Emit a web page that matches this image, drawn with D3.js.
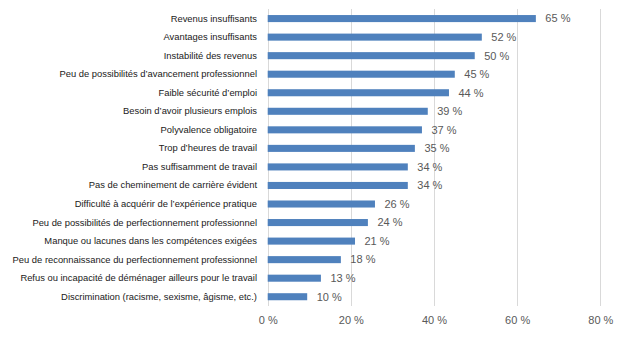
<!DOCTYPE html>
<html><head><meta charset="utf-8">
<script src="https://cdn.jsdelivr.net/npm/d3@7"></script>
<style>body{margin:0;background:#fff}svg{display:block}</style>
</head><body>
<svg id="c" width="621" height="339"></svg>
<script>
const categories = [
  "Revenus insuffisants",
  "Avantages insuffisants",
  "Instabilité des revenus",
  "Peu de possibilités  d’avancement professionnel",
  "Faible sécurité  d’emploi",
  "Besoin d’avoir plusieurs emplois",
  "Polyvalence obligatoire",
  "Trop d’heures de travail",
  "Pas suffisamment de travail",
  "Pas de cheminement de carrière évident",
  "Difficulté à acquérir de l’expérience pratique",
  "Peu de possibilités de perfectionnement professionnel",
  "Manque ou lacunes dans les compétences exigées",
  "Peu de reconnaissance du perfectionnement professionnel",
  "Refus ou incapacité de déménager ailleurs pour le travail",
  "Discrimination (racisme, sexisme, âgisme, etc.)"
];
const values = [64.5, 51.5, 49.8, 45, 43.6, 38.5, 37.1, 35.4, 33.7, 33.7, 25.8, 24.1, 21, 17.6, 12.8, 9.5];
const ticks = [0, 20, 40, 60, 80];

const svg = d3.select("#c");
const x = d3.scaleLinear().domain([0, 80]).range([267.7, 600.3]);
const y = d3.scaleBand().domain(categories).range([9.3, 306]).paddingInner(0.62).paddingOuter(0.31);

// gridlines
svg.append("g").selectAll("line").data(ticks).join("line")
  .attr("x1", d => Math.round(x(d)) + 0.5).attr("x2", d => Math.round(x(d)) + 0.5)
  .attr("y1", 9).attr("y2", 306)
  .attr("stroke", "#d9d9d9").attr("stroke-width", 1);

// x tick labels
const xAxis = d3.axisBottom(x).tickValues(ticks).tickSize(0).tickFormat(d => d + " %");
const gx = svg.append("g").attr("transform", "translate(0,313)").call(xAxis);
gx.select(".domain").remove();
gx.selectAll("text").attr("font-family", "Liberation Sans, Arial, sans-serif").attr("font-size", "11px").attr("fill", "#595959");

// category labels
const yAxis = d3.axisLeft(y).tickSize(0).tickPadding(0);
const gy = svg.append("g").attr("transform", "translate(257,0)").call(yAxis);
gy.select(".domain").remove();
gy.selectAll("text").attr("font-family", "Liberation Sans, Arial, sans-serif").attr("font-size", "9.4px").attr("fill", "#1a1a1a");

// bars
svg.append("g").selectAll("rect").data(values).join("rect")
  .attr("x", x(0)).attr("y", (d, i) => y(categories[i]))
  .attr("width", d => x(d) - x(0)).attr("height", y.bandwidth())
  .attr("fill", "#4f81bd");

// value labels
svg.append("g").selectAll("text").data(values).join("text")
  .attr("x", d => x(d) + 9.5).attr("y", (d, i) => y(categories[i]) + y.bandwidth() / 2)
  .attr("dy", "0.35em")
  .attr("font-family", "Liberation Sans, Arial, sans-serif").attr("font-size", "11px").attr("fill", "#595959")
  .text(d => Math.round(d) + " %");
</script>
</body></html>
